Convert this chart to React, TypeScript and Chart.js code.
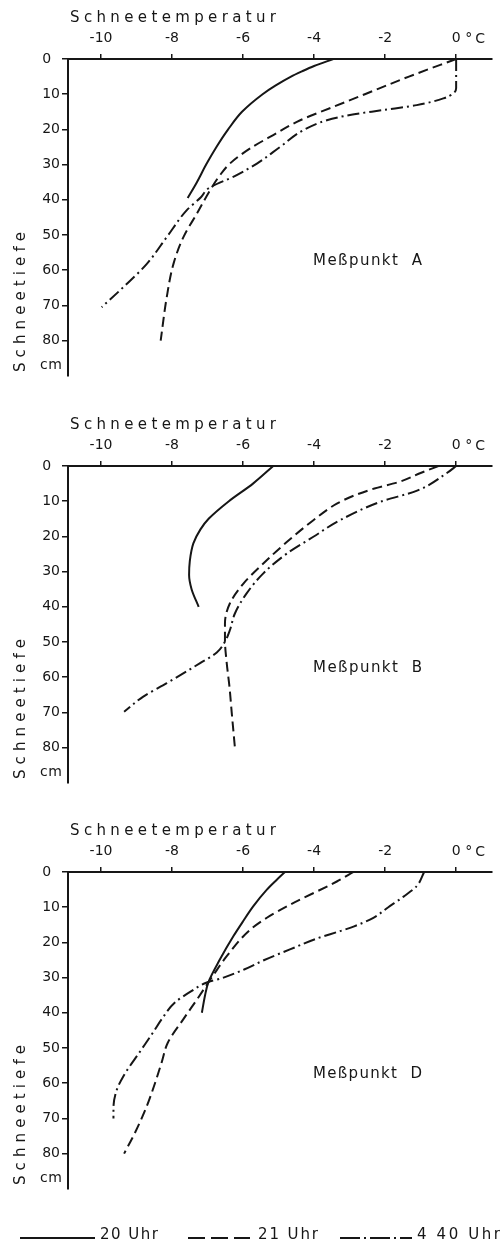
import React, { useEffect, useRef } from 'react';
import { Chart, registerables } from 'chart.js';

Chart.register(...registerables);

const FONT = "'DejaVu Sans', sans-serif";
const INK = '#161616';

// Axis ticks and labels
const depthTicks = [0, 10, 20, 30, 40, 50, 60, 70, 80];
const tempTicks = [-10, -8, -6, -4, -2, 0];
const xTitle = 'Schneetemperatur';
const yTitle = 'Schneetiefe';
const xUnit = '°C';
const yUnit = 'cm';
const seriesNames = ['20 Uhr', '21 Uhr', '4 40 Uhr'];
const panelNames = ['Meßpunkt  A', 'Meßpunkt  B', 'Meßpunkt  D'];

// Meßpunkt A (depth cm, temperature °C)
const aDepth20 = [0, 2, 3.6, 5, 7.5, 10, 15, 20, 25, 30, 35, 39.5];
const aTemp20 = [-3.46, -4.0, -4.36, -4.65, -5.08, -5.45, -6.03, -6.42, -6.75, -7.04, -7.3, -7.56];
const aDepth21 = [0, 5, 10, 13.6, 17.4, 21.6, 25.4, 29.7, 33, 37.3, 43.9, 50.6, 58.2, 67.7, 80];
const aTemp21 = [0, -1.33, -2.57, -3.46, -4.39, -5.15, -5.8, -6.37, -6.65, -6.93, -7.3, -7.68, -7.96, -8.15, -8.32];
const aDepth440 = [0, 5, 8.3, 9.8, 11.2, 13.1, 14.5, 15.9, 17.4, 20.2, 25, 29.7, 33, 36.8, 39.2, 43, 50.6, 58.2, 64.8, 70.5];
const aTemp440 = [0, 0, 0, -0.08, -0.36, -1.11, -2.05, -2.99, -3.64, -4.3, -4.96, -5.61, -6.18, -6.98, -7.18, -7.59, -8.15, -8.71, -9.37, -9.98];

// Meßpunkt B
const bDepth20 = [0, 5, 10, 15, 18, 22, 27, 31, 35, 40];
const bTemp20 = [-5.15, -5.72, -6.4, -6.97, -7.2, -7.4, -7.5, -7.52, -7.45, -7.25];
const bDepth21 = [0, 2, 4.5, 6.4, 8.3, 10.7, 15.4, 21.6, 27.7, 33.4, 39, 44.7, 49.4, 56, 63, 70, 80];
const bTemp21 = [-0.5, -1.0, -1.6, -2.3, -2.85, -3.36, -4.02, -4.77, -5.43, -5.99, -6.37, -6.51, -6.51, -6.46, -6.38, -6.32, -6.23];
const bDepth440 = [0, 2, 7, 10.2, 15.4, 20.1, 24.9, 30.5, 36.2, 41.9, 46.6, 49.9, 53, 56, 61.7, 65.5, 69.8];
const bTemp440 = [0, -0.26, -1.1, -2.14, -3.27, -4.02, -4.77, -5.43, -5.9, -6.23, -6.37, -6.51, -6.74, -7.21, -8.15, -8.81, -9.35];

// Meßpunkt D
const dDepth20 = [0, 2.2, 5, 9.7, 14, 18.2, 24.8, 31.4, 35, 40];
const dTemp20 = [-4.82, -5.05, -5.33, -5.71, -6.0, -6.27, -6.65, -6.98, -7.07, -7.16];
const dDepth21 = [0, 2.7, 9.3, 13, 16.4, 23.9, 28, 31.4, 35.5, 41.8, 48.5, 54, 60, 66.5, 74, 80];
const dTemp21 = [-2.89, -3.36, -4.68, -5.33, -5.8, -6.46, -6.75, -6.98, -7.25, -7.68, -8.12, -8.29, -8.48, -8.71, -9.04, -9.35];
const dDepth440 = [0, 4, 7, 10, 13, 15.5, 16.8, 19, 22, 25, 27.7, 30, 31.4, 34, 37.1, 41.8, 45.5, 51, 58, 62, 67, 70];
const dTemp440 = [-0.9, -1.11, -1.48, -1.91, -2.33, -2.89, -3.27, -3.95, -4.68, -5.4, -5.97, -6.55, -7.02, -7.48, -7.92, -8.29, -8.53, -8.9, -9.37, -9.56, -9.65, -9.65];

const X_MIN = -10.93;
const X_MAX = 1.01;
const Y_MAX = 90;

const DASHES = [[], [10, 5], [12, 4, 2, 4]];
const LEGEND_DASHES = [[], [17, 6], [20, 4, 2, 4]];

const panels = [
  { name: panelNames[0], top: 0, height: 407, depths: [aDepth20, aDepth21, aDepth440], temps: [aTemp20, aTemp21, aTemp440], legend: false },
  { name: panelNames[1], top: 407, height: 406, depths: [bDepth20, bDepth21, bDepth440], temps: [bTemp20, bTemp21, bTemp440], legend: false },
  { name: panelNames[2], top: 813, height: 430, depths: [dDepth20, dDepth21, dDepth440], temps: [dTemp20, dTemp21, dTemp440], legend: true },
];

function drawSpaced(ctx: CanvasRenderingContext2D, text: string, x: number, y: number, width: number) {
  const chars = Array.from(text);
  const widths = chars.map((c) => ctx.measureText(c).width);
  const natural = widths.reduce((s, w) => s + w, 0);
  const gap = chars.length > 1 ? (width - natural) / (chars.length - 1) : 0;
  let cx = x;
  ctx.textAlign = 'left';
  chars.forEach((c, i) => {
    ctx.fillText(c, cx, y);
    cx += widths[i] + gap;
  });
}

function makeTextPlugin(name: string, legend: boolean) {
  return {
    id: 'panelTexts',
    afterDraw(chart: any) {
      const { ctx, chartArea, scales } = chart;
      const xs = scales.x;
      const ys = scales.y;
      const top = chartArea.top;
      ctx.save();
      ctx.fillStyle = INK;
      ctx.strokeStyle = INK;
      ctx.textBaseline = 'middle';
      ctx.font = `15px ${FONT}`;
      drawSpaced(ctx, xTitle, chartArea.left + 2, top - 41, 206);
      ctx.font = `14px ${FONT}`;
      drawSpaced(ctx, xUnit, xs.getPixelForValue(0) + 9, top - 20, 20);
      ctx.font = `15px ${FONT}`;
      ctx.save();
      ctx.translate(21, top + 313);
      ctx.rotate(-Math.PI / 2);
      drawSpaced(ctx, yTitle, 0, 0, 140);
      ctx.restore();
      ctx.font = `14px ${FONT}`;
      drawSpaced(ctx, yUnit, 40, top + 306, 22);
      ctx.font = `15px ${FONT}`;
      drawSpaced(ctx, name, xs.getPixelForValue(-4.03), ys.getPixelForValue(57.3), 109);

      if (legend) {
        const ly = 425;
        const ty = 422;
        const items = [
          { x0: 20, x1: 95, tx: 100, tw: 58 },
          { x0: 188, x1: 250, tx: 258, tw: 60 },
          { x0: 340, x1: 412, tx: 417, tw: 83 },
        ];
        items.forEach((it, i) => {
          ctx.beginPath();
          ctx.lineWidth = 2;
          ctx.setLineDash(LEGEND_DASHES[i]);
          ctx.moveTo(it.x0, ly);
          ctx.lineTo(it.x1, ly);
          ctx.stroke();
          ctx.setLineDash([]);
          drawSpaced(ctx, seriesNames[i], it.tx, ty, it.tw);
        });
      }
      ctx.restore();
    },
  };
}

function Panel(props: { name: string; top: number; height: number; depths: number[][]; temps: number[][]; legend: boolean }) {
  const ref = useRef<HTMLCanvasElement | null>(null);
  useEffect(() => {
    const canvas = ref.current;
    if (!canvas) return;
    const plotTop = 59;
    const plotBottom = plotTop + Y_MAX * 3.52;
    const datasets = props.depths.map((dep, i) => ({
      label: seriesNames[i],
      data: dep.map((d, k) => ({ x: props.temps[i][k], y: d })),
      showLine: true,
      indexAxis: 'y',
      cubicInterpolationMode: 'monotone',
      borderColor: INK,
      backgroundColor: INK,
      borderWidth: 2,
      borderDash: DASHES[i],
      pointRadius: 0,
      fill: false,
    }));
    const chart = new Chart(canvas, {
      type: 'scatter',
      data: { datasets },
      options: {
        animation: false,
        responsive: false,
        maintainAspectRatio: false,
        devicePixelRatio: 1,
        layout: { padding: { left: 0, right: 10, top: 0, bottom: props.height - plotBottom } },
        plugins: { legend: { display: false }, tooltip: { enabled: false }, title: { display: false } },
        scales: {
          x: {
            type: 'linear',
            position: 'top',
            min: X_MIN,
            max: X_MAX,
            afterBuildTicks: (s: any) => {
              s.ticks = tempTicks.map((v) => ({ value: v }));
            },
            afterFit: (s: any) => {
              s.height = plotTop;
            },
            ticks: {
              autoSkip: false,
              maxRotation: 0,
              padding: 7,
              color: INK,
              font: { family: FONT, size: 14 },
              callback: (v: any) => String(v),
            },
            grid: { drawOnChartArea: false, drawTicks: true, tickLength: 5, color: INK, lineWidth: 1.5 },
            border: { display: true, color: INK, width: 2 },
          },
          y: {
            type: 'linear',
            position: 'left',
            reverse: true,
            min: 0,
            max: Y_MAX,
            afterBuildTicks: (s: any) => {
              s.ticks = depthTicks.map((v) => ({ value: v }));
            },
            afterFit: (s: any) => {
              s.width = 68;
            },
            ticks: {
              autoSkip: false,
              padding: 2,
              color: INK,
              font: { family: FONT, size: 14 },
              callback: (v: any) => (v === 0 ? '0  ' : String(v)),
            },
            grid: { drawOnChartArea: false, drawTicks: true, tickLength: 6, color: INK, lineWidth: 1.5 },
            border: { display: true, color: INK, width: 2 },
          },
        },
      },
      plugins: [makeTextPlugin(props.name, props.legend)],
    } as any);
    return () => chart.destroy();
  }, []);
  return (
    <canvas
      ref={ref}
      width={502}
      height={props.height}
      style={{ position: 'absolute', left: 0, top: props.top, width: 502, height: props.height, display: 'block' }}
    />
  );
}

export default function App() {
  return (
    <div style={{ position: 'absolute', left: 0, top: 0, width: 502, height: 1243, background: '#fff', overflow: 'hidden' }}>
      {panels.map((p) => (
        <Panel key={p.name} {...p} />
      ))}
    </div>
  );
}
